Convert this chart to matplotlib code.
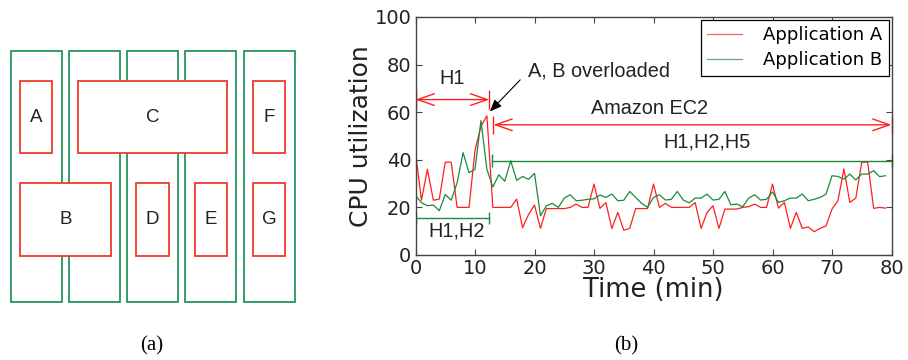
import matplotlib
matplotlib.use("Agg")
import matplotlib.pyplot as plt
from matplotlib.patches import Rectangle
import numpy as np

# ---------------- data ----------------
time_min = list(range(80))
app_a = [43, 23, 36, 23, 23.5, 39, 39, 20, 20, 20,
         44, 54, 58.5, 20, 20, 20, 20, 23.5, 11.5, 17,
         21, 11.2, 19.5, 19.5, 19.5, 19.5, 20, 21.4, 20, 20,
         29.8, 19.6, 22, 11.1, 17.9, 10.4, 11.2, 19.5, 19.5, 19.5,
         29.8, 20, 21.7, 20, 20, 20, 20, 22, 11.2, 17.9,
         20.7, 11.2, 19.3, 19.3, 19.3, 20, 20.3, 21.4, 20, 20,
         29.8, 19.7, 22.1, 11.2, 17.9, 11.2, 11.8, 9.8, 11.2, 12.2,
         19.3, 22.8, 36.2, 22.1, 23.9, 39, 39, 19.6, 20, 19.7]
app_b = [25, 22, 20.7, 21, 18.6, 25.4, 23, 30.4, 43, 34.6,
         36, 56.5, 36, 28.6, 33.7, 31, 39.6, 31.4, 33, 31.8,
         34.3, 16.5, 20.7, 21.7, 20, 23.9, 25.3, 22.8, 23, 23.4,
         23.6, 25.2, 24.2, 25.6, 22.8, 23, 26.7, 24.2, 21.7, 20,
         24.2, 25.3, 23.1, 23.4, 26.7, 23.1, 21.9, 23.9, 23.9, 25.6,
         23.1, 23.4, 26.7, 21.1, 21.4, 20.3, 23.9, 25.3, 23.1, 23.4,
         26.5, 22.1, 22.8, 23.9, 23.9, 25.6, 22.8, 23.4, 24.2, 25.6,
         33.3, 33, 31.9, 34, 31.5, 34, 34, 35.4, 32.9, 33.3]
series_labels = ["Application A", "Application B"]
x_ticks = [0, 10, 20, 30, 40, 50, 60, 70, 80]
y_ticks = [0, 20, 40, 60, 80, 100]

# diagram (a): VMs placed on hosts (columns), (label, first col, last col, row)
vm_boxes = [("A", 0, 0, 0), ("C", 1, 3, 0), ("F", 4, 4, 0),
            ("B", 0, 1, 1), ("D", 2, 2, 1), ("E", 3, 3, 1), ("G", 4, 4, 1)]
n_hosts = 5

RED = "#ff1f1f"
GREEN = "#1b8a3e"
BOX_RED = "#ee3b2b"
BOX_GREEN = "#23955a"
TXT = "#222222"
SANS = "Liberation Sans"

fig = plt.figure(figsize=(9.08, 3.6), dpi=100)

# ---------------- panel (a) ----------------
ax0 = fig.add_axes([0, 0, 310 / 908, 1])
ax0.set_xlim(0, 310)
ax0.set_ylim(360, 0)
ax0.axis("off")
col_x0, col_pitch, col_w = 10.7, 58.2, 51.0
col_top, col_bot = 50.7, 301.7
row_y = [(80.7, 153.3), (183.3, 256.0)]
inset = 9.3
for i in range(n_hosts):
    x = col_x0 + i * col_pitch
    ax0.add_patch(Rectangle((x, col_top), col_w, col_bot - col_top,
                            fill=False, ec=BOX_GREEN, lw=1.3))
for lab, c0, c1, r in vm_boxes:
    x0 = col_x0 + c0 * col_pitch + inset
    x1 = col_x0 + c1 * col_pitch + col_w - inset
    y0, y1 = row_y[r]
    ax0.add_patch(Rectangle((x0, y0), x1 - x0, y1 - y0, facecolor="white",
                            ec=BOX_RED, lw=1.3, zorder=3))
    ax0.text((x0 + x1) / 2, (y0 + y1) / 2, lab, ha="center", va="center",
             fontsize=13.5, family=SANS, color=TXT, zorder=4)

fig.text(152 / 908, 1 - 346 / 360, "(a)", ha="center", va="center",
         fontsize=15, family="Liberation Serif", color="black")
fig.text(626 / 908, 1 - 346 / 360, "(b)", ha="center", va="center",
         fontsize=15, family="Liberation Serif", color="black")

# ---------------- panel (b) ----------------
L, R, T, B = 415.5 / 908, 891.5 / 908, 1 - 17 / 360, 1 - 255 / 360
ax = fig.add_axes([L, B, R - L, T - B])
ax.plot(time_min, app_a, color=RED, lw=0.9, label=series_labels[0])
ax.plot(time_min, app_b, color=GREEN, lw=0.9, label=series_labels[1])
ax.set_xlim(0, 80)
ax.set_ylim(0, 100)
ax.set_xticks(x_ticks)
ax.set_yticks(y_ticks)
ax.tick_params(direction="in", top=True, right=True, labelsize=14,
               labelcolor=TXT, color="#444444", length=4, width=0.8, pad=3)
for s in ax.spines.values():
    s.set_color("#444444")
    s.set_linewidth(1.0)
ax.set_xlabel("Time (min)", fontsize=18.5, color=TXT, labelpad=-1)
ax.set_ylabel("CPU utilization", fontsize=18, color=TXT, labelpad=1)

leg = ax.legend(loc="upper right", fontsize=13, frameon=True, fancybox=False,
                framealpha=1, edgecolor="black", handlelength=1.9,
                handletextpad=1.2, borderaxespad=0.15, labelspacing=0.4,
                borderpad=0.35)
leg.get_frame().set_linewidth(0.9)
for h in leg.legend_handles:
    h.set_alpha(0.7)

# annotations
h1_end = 12.4
ec2_start = 13.1
b_start = 12.8
ann_fs = 14.3
arrow_kw = dict(arrowstyle="<->,head_length=0.8,head_width=0.28",
                color=RED, lw=1.0, shrinkA=0, shrinkB=0, mutation_scale=15)
ax.annotate("", xy=(0, 65.3), xytext=(h1_end, 65.3), arrowprops=arrow_kw)
ax.vlines([0, h1_end], 61.5, 69.2, color=RED, lw=1.0)
ax.text(h1_end / 2, 74, "H1", ha="center", va="center", fontsize=ann_fs,
        family=SANS, color=TXT)

ax.annotate("", xy=(ec2_start, 54.7), xytext=(80, 54.7), arrowprops=arrow_kw,
            annotation_clip=False)
ax.vlines([ec2_start, 80], 51, 58.6, color=RED, lw=1.0, clip_on=False)
ax.text(39.4, 61.6, "Amazon EC2", ha="center", va="center", fontsize=ann_fs,
        family=SANS, color=TXT)

ax.plot([b_start, 80], [39.7, 39.7], color=GREEN, lw=1.0, clip_on=False)
ax.vlines([b_start, 80], 37, 42.4, color=GREEN, lw=1.0, clip_on=False)
ax.text(49, 47.3, "H1,H2,H5", ha="center", va="center", fontsize=ann_fs,
        family=SANS, color=TXT)

ax.plot([0, h1_end], [15.5, 15.5], color=GREEN, lw=1.0)
ax.vlines([0, h1_end], 13, 18, color=GREEN, lw=1.0)
ax.text(6.9, 10.2, "H1,H2", ha="center", va="center", fontsize=ann_fs,
        family=SANS, color=TXT)

ax.text(18.9, 77.3, "A, B overloaded", ha="left", va="center", fontsize=ann_fs,
        family=SANS, color=TXT)
ax.annotate("", xy=(12.5, 60.3), xytext=(17.6, 73.6),
            arrowprops=dict(arrowstyle="-|>,head_length=0.6,head_width=0.25",
                            color="black", lw=0.8, shrinkA=0, shrinkB=0,
                            mutation_scale=12))

fig.savefig("out.png", dpi=100)
